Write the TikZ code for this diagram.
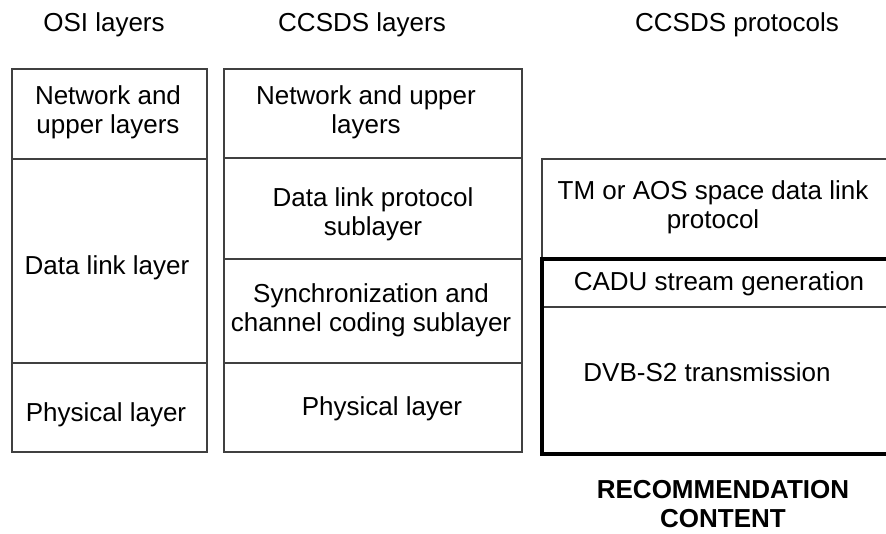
\documentclass[tikz,border=0pt]{standalone}
\usepackage{fontspec}
\setmainfont{Liberation Sans}
\usetikzlibrary{positioning}

\begin{document}
\begin{tikzpicture}[x=0.75pt,y=-0.75pt,
  lab/.style={font=\fontsize{19.5}{22}\selectfont,align=center,inner sep=0pt},
  grid/.style={black!75,line width=0.8pt},
  heavy/.style={black,line width=2.6pt}]
\useasboundingbox (0,0) rectangle (886,533);
% column headings
\node[lab] (hosi) at (104,25) {OSI layers};
\node[lab] (hlayers) at (362,25) {CCSDS layers};
\node[lab] (hprot) at (737,25) {CCSDS protocols};
% OSI stack
\draw[grid] (12,69) rectangle (207,159); \draw[grid] (12,159) rectangle (207,363); \draw[grid] (12,363) rectangle (207,452);
\node[lab] (osinet) at (108,112) {Network and\\upper layers};
\node[lab] (osidl) at (107,268) {Data link layer};
\node[lab] (osiphy) at (106,415) {Physical layer};
% CCSDS stack
\draw[grid] (224,69) rectangle (522,158); \draw[grid] (224,158) rectangle (522,259);
\draw[grid] (224,259) rectangle (522,363); \draw[grid] (224,363) rectangle (522,452);
\node[lab] (ccnet) at (366,112) {Network and upper\\layers};
\node[lab] (ccdl) at (373,214) {Data link protocol\\sublayer};
\node[lab] (ccsync) at (371,310) {Synchronization and\\channel coding sublayer};
\node[lab] (ccphy) at (382,409) {Physical layer};
% protocols, open on the right
\draw[grid] (886,159) -- (542,159) -- (542,259); \draw[grid] (542,307) -- (886,307);
\draw[heavy] (886,259) -- (542,259) -- (542,454) -- (886,454);
\node[lab] (tm) at (713,207) {TM or AOS space data link\\protocol};
\node[lab] (cadu) at (719,284) {CADU stream generation};
\node[lab] (dvb) at (707,372) {DVB-S2 transmission};
\node[lab,font=\fontsize{19.5}{22}\selectfont\bfseries] (rec) at (723,504) {RECOMMENDATION\\CONTENT};
\end{tikzpicture}
\end{document}
